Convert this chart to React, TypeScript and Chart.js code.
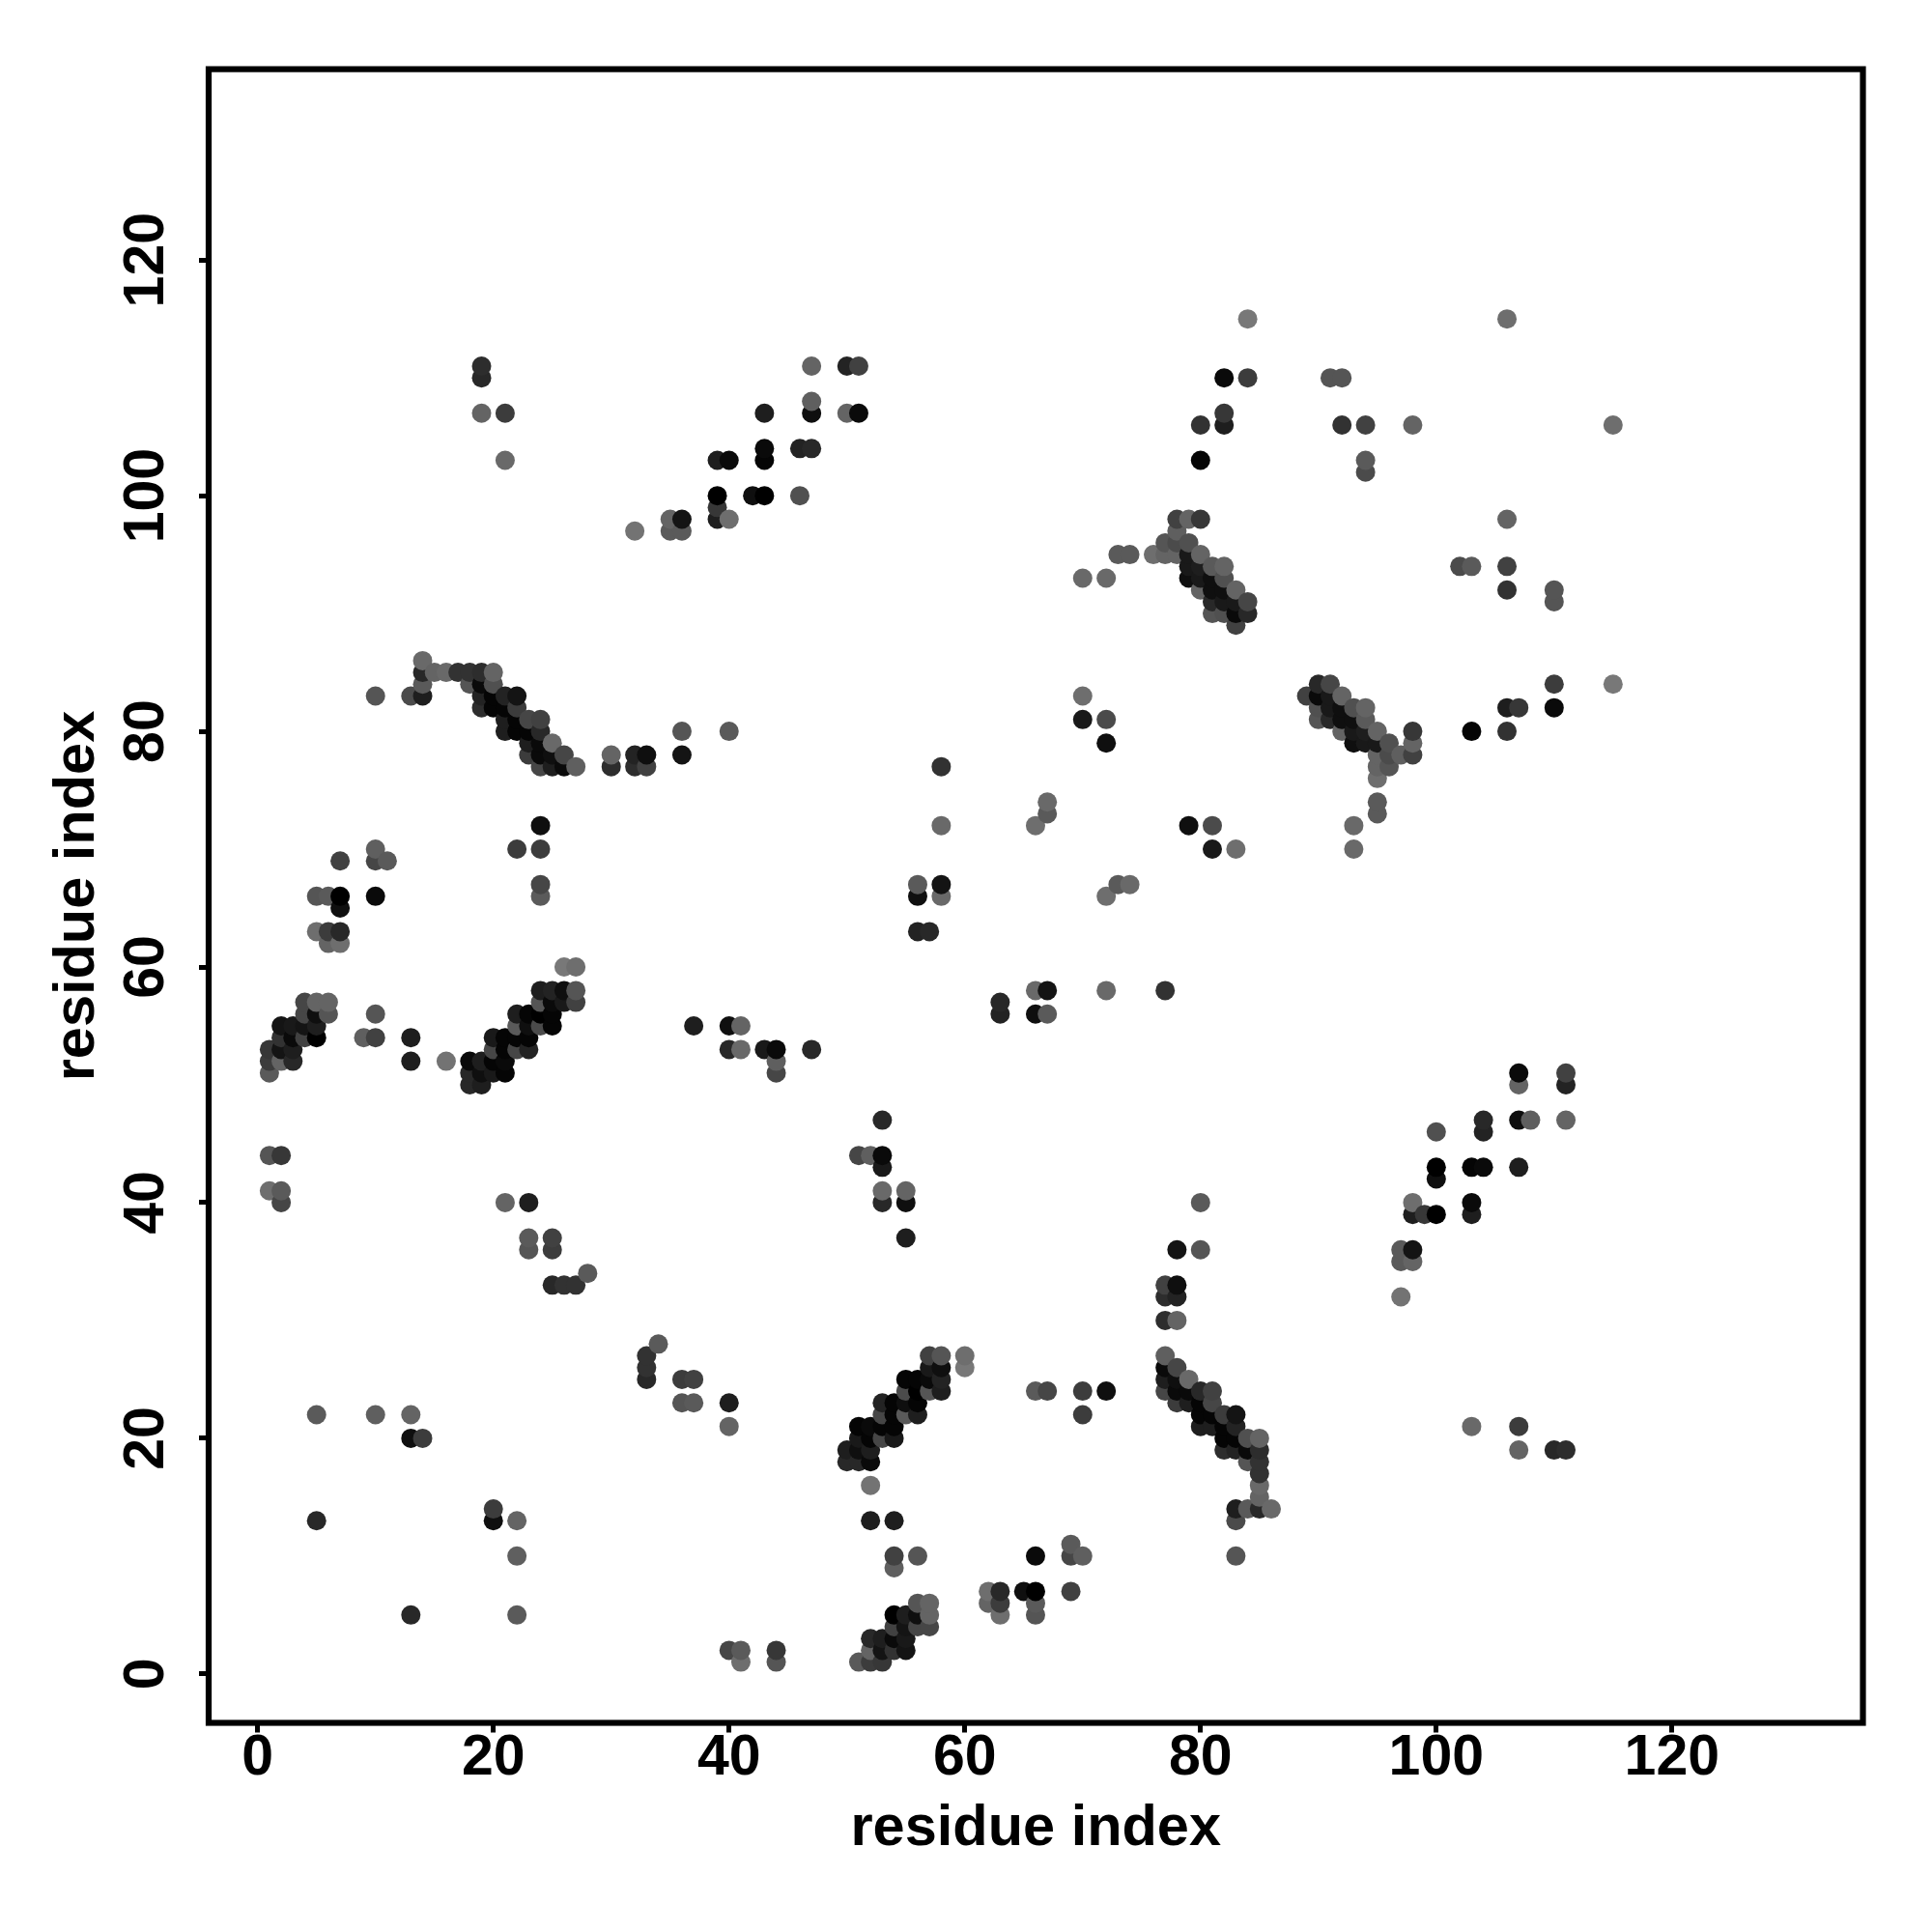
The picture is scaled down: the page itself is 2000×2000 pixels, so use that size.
import React, { useEffect, useRef } from "react";
import { Chart, registerables } from "chart.js";

Chart.register(...registerables);

// [residue x, residue y, grey level]
const upperContacts: number[][] = [
  [1,41,110],[1,44,85],[1,51,90],[1,52,60],[1,53,55],
  [2,40,70],[2,41,90],[2,44,55],[2,52,100],[2,53,20],[2,54,50],[2,55,20],
  [3,52,40],[3,53,30],[3,54,10],[3,55,25],
  [4,54,65],[4,55,20],[4,56,70],[4,57,70],
  [5,13,40],[5,22,90],[5,54,0],[5,55,30],[5,56,15],[5,57,100],[5,63,110],[5,66,85],
  [6,56,85],[6,57,100],[6,62,100],[6,63,60],[6,66,90],
  [7,62,110],[7,63,40],[7,65,15],[7,66,0],[7,69,65],
  [9,54,95],
  [10,22,95],[10,54,65],[10,56,85],[10,66,10],[10,69,70],[10,70,95],[10,83,85],
  [11,69,90],
  [13,20,15],[13,22,100],[13,52,30],[13,54,30],[13,83,75],
  [14,20,60],[14,83,30],[14,84,90],[14,85,40],[14,86,105],
  [15,85,100],[16,52,115],[16,85,105],[17,85,50],
  [18,50,40],[18,51,40],[18,52,10],[18,84,85],[18,85,50],
  [19,50,30],[19,51,15],[19,52,30],[19,82,45],[19,83,35],[19,84,10],[19,85,45],[19,107,100],[19,110,40],[19,111,45],
  [20,51,25],[20,52,5],[20,53,70],[20,54,25],[20,82,5],[20,83,5],[20,84,80],[20,85,100],
  [21,40,100],[21,51,5],[21,52,10],[21,53,5],[21,54,5],[21,80,30],[21,81,30],[21,82,5],[21,83,35],[21,103,105],[21,107,60],
  [22,53,70],[22,54,5],[22,55,90],[22,56,30],[22,70,60],[22,80,5],[22,81,5],[22,82,60],[22,83,20],
  [23,36,85],[23,37,90],[23,40,30],[23,53,35],[23,54,5],[23,55,15],[23,56,5],[23,78,60],[23,79,30],[23,80,5],[23,81,70],
  [24,55,75],[24,56,0],[24,57,85],[24,58,30],[24,66,90],[24,67,70],[24,70,60],[24,72,15],[24,77,70],[24,78,10],[24,79,10],[24,80,40],[24,81,65],
  [25,33,40],[25,36,60],[25,37,65],[25,55,5],[25,56,5],[25,57,10],[25,58,35],[25,77,30],[25,78,15],[25,79,105],
  [26,33,50],[26,57,25],[26,58,15],[26,60,120],[26,77,10],[26,78,70],
  [27,33,50],[27,57,65],[27,58,85],[27,60,110],[27,77,95],
  [28,34,90],[30,77,45],[30,78,100],
  [32,77,45],[32,78,35],[32,97,115],[33,77,65],[33,78,15],
  [35,97,90],[35,98,100],[36,78,20],[36,80,85],[36,97,90],[36,98,20],
  [37,55,30],
  [39,98,30],[39,99,55],[39,100,0],[39,103,30],
  [40,53,40],[40,55,15],[40,80,90],[40,98,110],[40,103,10],
  [41,53,105],[41,55,100],[42,100,15],
  [43,53,25],[43,100,0],[43,103,5],[43,104,10],[43,107,30],
  [44,51,70],[44,52,95],[44,53,10],
  [46,100,80],[46,104,35],
  [47,53,40],[47,104,40],[47,107,15],[47,108,95],[47,111,100],
  [50,107,100],[50,111,35],[51,107,10],[51,111,65],
  [56,63,35],[56,66,15],[56,67,90],[57,63,40],
  [58,66,105],[58,67,20],[58,72,105],[58,77,50],
  [66,72,110],[67,73,90],[67,74,105],
  [70,81,25],[70,83,110],[70,93,105],[72,79,15],[72,81,75],[72,93,105],
  [73,95,90],[74,95,90],[76,95,110],[77,95,100],[77,96,85],
  [78,95,100],[78,96,75],[78,97,95],[78,98,65],
  [79,93,15],[79,94,25],[79,95,25],[79,96,80],[79,98,100],
  [80,92,100],[80,93,25],[80,94,30],[80,95,100],[80,98,55],[80,103,5],[80,106,50],
  [81,90,85],[81,91,40],[81,92,15],[81,93,15],[81,94,90],
  [82,90,80],[82,91,25],[82,92,15],[82,93,80],[82,94,100],[82,106,30],[82,107,55],[82,110,10],
  [83,89,65],[83,90,10],[83,91,25],[83,92,100],
  [84,90,40],[84,91,70],[84,110,60],[84,115,120],
  [91,110,85],[92,106,50],[92,110,85],
  [94,102,75],[94,103,90],[94,106,65],[98,106,100],[106,115,110],
];

const lowerContacts: number[][] = [
  [41,1,110],[44,1,85],[51,1,90],[52,1,60],[53,1,55],
  [40,2,70],[41,2,90],[44,2,55],[52,2,100],[53,2,20],[54,2,50],[55,2,20],
  [52,3,40],[53,3,30],[54,3,10],[55,3,25],
  [54,4,65],[55,4,20],[56,4,70],[57,4,70],
  [13,5,40],[22,5,90],[54,5,0],[55,5,30],[56,5,15],[57,5,100],[63,5,110],[66,5,85],
  [56,6,85],[57,6,100],[62,6,100],[63,6,60],[66,6,90],
  [62,7,110],[63,7,40],[65,7,15],[66,7,0],[69,7,65],
  [54,9,95],
  [22,10,95],[54,10,65],[56,10,85],[66,10,10],[69,10,70],[70,10,95],[83,10,85],
  [69,11,90],
  [20,13,15],[22,13,100],[52,13,30],[54,13,30],[83,13,75],
  [20,14,60],[83,14,30],[84,14,90],[85,14,40],[86,14,105],
  [85,15,100],[52,16,115],[85,16,105],[85,17,50],
  [50,18,40],[51,18,40],[52,18,10],[84,18,85],[85,18,50],
  [50,19,30],[51,19,15],[52,19,30],[82,19,45],[83,19,35],[84,19,10],[85,19,45],[107,19,100],[110,19,40],[111,19,45],
  [51,20,25],[52,20,5],[53,20,70],[54,20,25],[82,20,5],[83,20,5],[84,20,80],[85,20,100],
  [40,21,100],[51,21,5],[52,21,10],[53,21,5],[54,21,5],[80,21,30],[81,21,30],[82,21,5],[83,21,35],[103,21,105],[107,21,60],
  [53,22,70],[54,22,5],[55,22,90],[56,22,30],[70,22,60],[80,22,5],[81,22,5],[82,22,60],[83,22,20],
  [36,23,85],[37,23,90],[40,23,30],[53,23,35],[54,23,5],[55,23,15],[56,23,5],[78,23,60],[79,23,30],[80,23,5],[81,23,70],
  [55,24,75],[56,24,0],[57,24,85],[58,24,30],[66,24,90],[67,24,70],[70,24,60],[72,24,15],[77,24,70],[78,24,10],[79,24,10],[80,24,40],[81,24,65],
  [33,25,40],[36,25,60],[37,25,65],[55,25,5],[56,25,5],[57,25,10],[58,25,35],[77,25,30],[78,25,15],[79,25,105],
  [33,26,50],[57,26,25],[58,26,15],[60,26,120],[77,26,10],[78,26,70],
  [33,27,50],[57,27,65],[58,27,85],[60,27,110],[77,27,95],
  [34,28,90],[77,30,45],[78,30,100],
  [77,32,45],[78,32,35],[97,32,115],[77,33,65],[78,33,15],
  [97,35,90],[98,35,100],[78,36,20],[80,36,85],[97,36,90],[98,36,20],
  [55,37,30],
  [98,39,30],[99,39,55],[100,39,0],[103,39,30],
  [53,40,40],[55,40,15],[80,40,90],[98,40,110],[103,40,10],
  [53,41,105],[55,41,100],[100,42,15],
  [53,43,25],[100,43,0],[103,43,5],[104,43,10],[107,43,30],
  [51,44,70],[52,44,95],[53,44,10],
  [100,46,80],[104,46,35],
  [53,47,40],[104,47,40],[107,47,15],[108,47,95],[111,47,100],
  [107,50,100],[111,50,35],[107,51,10],[111,51,65],
  [63,56,35],[66,56,15],[67,56,90],[63,57,40],
  [66,58,105],[67,58,20],[72,58,105],[77,58,50],
  [72,66,110],[73,67,90],[74,67,105],
  [81,70,25],[83,70,110],[93,70,105],[79,72,15],[81,72,75],[93,72,105],
  [95,73,90],[95,74,90],[95,76,110],[95,77,100],[96,77,85],
  [95,78,100],[96,78,75],[97,78,95],[98,78,65],
  [93,79,15],[94,79,25],[95,79,25],[96,79,80],[98,79,100],
  [92,80,100],[93,80,25],[94,80,30],[95,80,100],[98,80,55],[103,80,5],[106,80,50],
  [90,81,85],[91,81,40],[92,81,15],[93,81,15],[94,81,90],
  [90,82,80],[91,82,25],[92,82,15],[93,82,80],[94,82,100],[106,82,30],[107,82,55],[110,82,10],
  [89,83,65],[90,83,10],[91,83,25],[92,83,100],
  [90,84,40],[91,84,70],[110,84,60],[115,84,120],
  [110,91,85],[106,92,50],[110,92,85],
  [102,94,75],[103,94,90],[106,94,65],[106,98,100],[115,106,110],
];

const tickValues = [0, 20, 40, 60, 80, 100, 120];
const axisTitle = "residue index";
const axisMin = -4.155;
const axisMax = 136.2;

export default function App() {
  const ref = useRef<HTMLCanvasElement>(null);
  useEffect(() => {
    const sorted = [...upperContacts, ...lowerContacts].sort((a, b) => a[0] - b[0] || a[1] - b[1]);
    const frame = {
      id: "frame",
      afterDatasetsDraw(chart: any) {
        const { ctx, chartArea: a } = chart;
        ctx.save();
        ctx.strokeStyle = "#000";
        ctx.lineWidth = 6.2;
        ctx.strokeRect(a.left, a.top, a.right - a.left, a.bottom - a.top);
        ctx.restore();
      },
    };
    const tickFont = { family: "'Liberation Sans'", size: 59, weight: "bold" as const };
    const titleFont = { family: "'Liberation Sans'", size: 59.5, weight: "bold" as const };
    const grid = { display: true, drawOnChartArea: false, drawTicks: true, tickLength: 10, tickWidth: 5, tickColor: "#000" };
    const setTicks = (s: any) => { s.ticks = tickValues.map((value) => ({ value })); };
    const chart = new Chart(ref.current!, {
      type: "scatter",
      data: {
        datasets: [{
          data: sorted.map((p) => ({ x: p[0], y: p[1] })),
          pointRadius: 10,
          pointBorderWidth: 0,
          pointBackgroundColor: sorted.map((p) => `rgb(${p[2]},${p[2]},${p[2]})`),
          showLine: false,
        }],
      },
      options: {
        responsive: false,
        animation: false,
        layout: { padding: { left: 0, top: 71.6, right: 71.5, bottom: 0 } },
        plugins: { legend: { display: false }, tooltip: { enabled: false } },
        scales: {
          x: {
            type: "linear", min: axisMin, max: axisMax,
            grid, border: { display: false },
            afterFit: (s: any) => { s.height = 216.5; },
            afterBuildTicks: setTicks,
            ticks: { autoSkip: false, maxRotation: 0, minRotation: 0, color: "#000", font: tickFont, padding: -8 },
            title: { display: true, text: axisTitle, color: "#000", font: titleFont, padding: { top: 0, bottom: 71 } },
          },
          y: {
            type: "linear", min: axisMin, max: axisMax,
            grid, border: { display: false },
            afterFit: (s: any) => { s.width = 216; },
            afterBuildTicks: setTicks,
            ticks: { autoSkip: false, minRotation: 90, maxRotation: 90, crossAlign: "center", color: "#000", font: tickFont, padding: 4 },
            title: { display: true, text: axisTitle, color: "#000", font: titleFont, padding: { top: 45, bottom: 0 } },
          },
        },
      },
      plugins: [frame],
    } as any);
    return () => chart.destroy();
  }, []);
  return <canvas ref={ref} width={2000} height={2000} style={{ position: "absolute", left: 0, top: 0, width: 2000, height: 2000 }} />;
}
